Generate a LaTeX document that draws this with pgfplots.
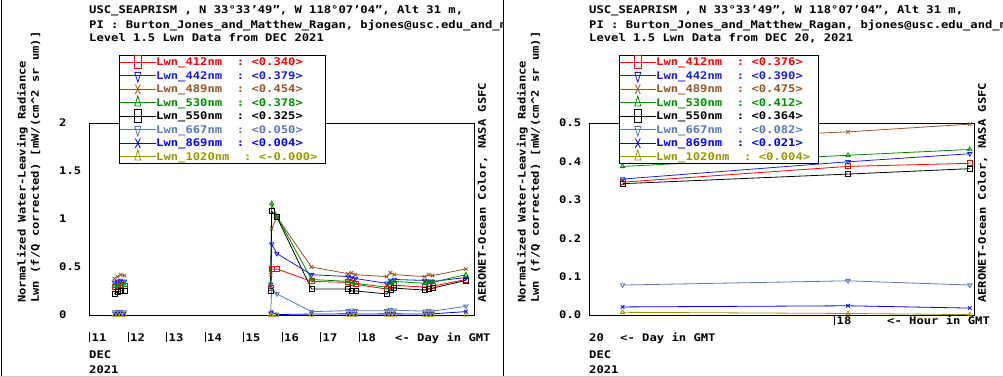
\documentclass[border=0pt]{standalone}
\usepackage{pgfplots}
\pgfplotsset{compat=1.18}
\usepackage{fontspec}
\setmainfont{DejaVu Sans Mono}[FakeStretch=1.16]
\definecolor{c412}{RGB}{255,0,0}
\definecolor{c442}{RGB}{30,30,220}
\definecolor{c489}{RGB}{150,85,40}
\definecolor{c530}{RGB}{0,140,0}
\definecolor{c550}{RGB}{0,0,0}
\definecolor{c667}{RGB}{90,120,180}
\definecolor{c869}{RGB}{0,0,255}
\definecolor{c1020}{RGB}{150,150,0}
\newcommand\tk[1]{\vrule width 1bp height 10bp depth 0bp\kern1.5bp#1}
\pgfplotsset{
  lwnaxis/.style={
    scale only axis, width=385bp, height=192bp, anchor=south west,
    axis line style={line width=0.8bp},
    major tick length=0pt,
    yticklabel style={anchor=west, inner sep=0pt, xshift=-30bp},
    xticklabel style={anchor=base west, inner sep=0pt},
    unbounded coords=jump,
    every axis plot/.append style={line width=0.8bp, mark size=2.5bp},
    legend style={at={(0.0779,1.354)}, anchor=north west, inner sep=0pt,
      row sep=0pt, column sep=0pt, draw=black, line width=0.8bp, fill=white,
      nodes={inner sep=0pt, text height=10.55bp, text depth=2.95bp}},
    legend cell align=left,
    legend image code/.code={\draw[mark repeat=2, mark phase=2, ##1, mark size=3.5bp,
      every mark/.append style={yscale=1.9}] plot coordinates {(0bp,0bp) (18bp,0bp) (36bp,0bp)};},
  },
  s412/.style={color=c412, mark=square},
  s442/.style={color=c442, mark=triangle, mark options={rotate=180}},
  s489/.style={color=c489, mark=x},
  s530/.style={color=c530, mark=triangle},
  s550/.style={color=c550, mark=square},
  s667/.style={color=c667, mark=triangle, mark options={rotate=180}},
  s869/.style={color=c869, mark=x},
  s1020/.style={color=c1020, mark=triangle},
}
\tikzset{tx/.style={anchor=base west, inner sep=0pt}, rl/.style={anchor=west, inner sep=0pt, rotate=90}}
\begin{document}
\fontsize{10.5bp}{12bp}\selectfont\bfseries
\begin{tikzpicture}
\path[use as bounding box] (0bp,0bp) rectangle (1003bp,377bp);
\draw[black!20, line width=1bp] (0bp,0.5bp) -- (1003bp,0.5bp);
\draw[line width=1bp] (1.5bp,1bp) -- (1.5bp,377bp);
\draw[line width=1bp] (503.5bp,1bp) -- (503.5bp,377bp);

% ---------------- left panel ----------------
\begin{axis}[lwnaxis, at={(89bp,62bp)}, xmin=11, xmax=21, ymin=0, ymax=2,
  xtick={11,12,13,14,15,16,17,18},
  xticklabels={\tk{11},\tk{12},\tk{13},\tk{14},\tk{15},\tk{16},\tk{17},\tk{18}},
  xticklabel style={yshift=-26.7bp},
  ytick={0,0.5,1,1.5,2}, yticklabels={0,0.5,1,1.5,2}]
\addplot[s412] coordinates {(11.66,0.29)(11.74,0.30)(11.82,0.31)(11.92,0.30)(13,nan)(15.72,0.28)(15.745,0.48)(15.88,0.48)(16.78,0.35)(17.73,0.34)(17.82,0.33)(17.92,0.32)(18.73,0.27)(18.83,0.30)(18.93,0.31)(19.72,0.29)(19.82,0.30)(19.92,0.30)(20.79,0.37)};
\addlegendentry{\textcolor{c412}{Lwn\_412nm~~:~<0.340>}\hspace*{8bp}}
\addplot[s442] coordinates {(11.66,0.34)(11.74,0.35)(11.82,0.36)(11.92,0.35)(13,nan)(15.72,0.32)(15.745,0.74)(15.88,0.64)(16.78,0.42)(17.73,0.40)(17.82,0.39)(17.92,0.38)(18.73,0.33)(18.83,0.36)(18.93,0.37)(19.72,0.36)(19.82,0.35)(19.92,0.35)(20.79,0.39)};
\addlegendentry{\textcolor{c442}{Lwn\_442nm~~:~<0.379>}\hspace*{8bp}}
\addplot[s489] coordinates {(11.66,0.38)(11.74,0.40)(11.82,0.42)(11.92,0.41)(13,nan)(15.72,0.42)(15.745,0.90)(15.88,1.02)(16.78,0.50)(17.73,0.43)(17.82,0.44)(17.92,0.42)(18.73,0.40)(18.83,0.44)(18.93,0.42)(19.72,0.40)(19.82,0.42)(19.92,0.41)(20.79,0.48)};
\addlegendentry{\textcolor{c489}{Lwn\_489nm~~:~<0.454>}\hspace*{8bp}}
\addplot[s530] coordinates {(11.66,0.30)(11.74,0.31)(11.82,0.32)(11.92,0.31)(13,nan)(15.72,0.29)(15.745,1.16)(15.88,1.03)(16.78,0.37)(17.73,0.35)(17.82,0.34)(17.92,0.33)(18.73,0.29)(18.83,0.33)(18.93,0.35)(19.72,0.33)(19.82,0.34)(19.92,0.34)(20.79,0.42)};
\addlegendentry{\textcolor{c530}{Lwn\_530nm~~:~<0.378>}\hspace*{8bp}}
\addplot[s550] coordinates {(11.66,0.22)(11.74,0.24)(11.82,0.25)(11.92,0.25)(13,nan)(15.72,0.25)(15.745,1.08)(15.88,1.02)(16.78,0.27)(17.73,0.27)(17.82,0.25)(17.92,0.25)(18.73,0.22)(18.83,0.26)(18.93,0.28)(19.72,0.26)(19.82,0.27)(19.92,0.28)(20.79,0.36)};
\addlegendentry{\textcolor{c550}{Lwn\_550nm~~:~<0.325>}\hspace*{8bp}}
\addplot[s667] coordinates {(11.66,0.03)(11.74,0.035)(11.82,0.035)(11.92,0.03)(13,nan)(15.72,0.02)(15.745,0.27)(15.88,0.22)(16.78,0.035)(17.73,0.045)(17.82,0.05)(17.92,0.045)(18.73,0.045)(18.83,0.055)(18.93,0.05)(19.72,0.04)(19.82,0.045)(19.92,0.04)(20.79,0.09)};
\addlegendentry{\textcolor{c667}{Lwn\_667nm~~:~<0.050>}\hspace*{8bp}}
\addplot[s869] coordinates {(11.66,0.01)(11.74,0.012)(11.82,0.012)(11.92,0.01)(13,nan)(15.72,0.01)(15.745,0.03)(15.88,0.005)(16.78,0.01)(17.73,0.012)(17.82,0.012)(17.92,0.01)(18.73,0.012)(18.83,0.015)(18.93,0.012)(19.72,0.01)(19.82,0.012)(19.92,0.012)(20.79,0.035)};
\addlegendentry{\textcolor{c869}{Lwn\_869nm~~:~<0.004>}\hspace*{8bp}}
\addplot[s1020] coordinates {(11.66,0)(11.74,0)(11.82,0)(11.92,0)(13,nan)(15.72,0)(15.745,0)(15.88,0)(16.78,0)(17.73,0)(17.82,0)(17.92,0)(18.73,0)(18.83,0)(18.93,0)(19.72,0)(19.82,0)(19.92,0)(20.79,0)};
\addlegendentry{\textcolor{c1020}{Lwn\_1020nm~~:~<-0.000>}\hspace*{8bp}}
\end{axis}

% ---------------- right panel ----------------
\begin{axis}[lwnaxis, at={(589bp,62bp)}, xmin=16.25, xmax=19, ymin=0, ymax=0.5,
  xtick={18}, xticklabels={\tk{18}},
  xticklabel style={yshift=-10bp},
  ytick={0,0.1,0.2,0.3,0.4,0.5}, yticklabels={0.0,0.1,0.2,0.3,0.4,0.5}]
\addplot[s412] coordinates {(16.49,0.346)(18.10,0.387)(18.97,0.395)};
\addlegendentry{\textcolor{c412}{Lwn\_412nm~~:~<0.376>}\hspace*{8bp}}
\addplot[s442] coordinates {(16.49,0.354)(18.10,0.399)(18.97,0.420)};
\addlegendentry{\textcolor{c442}{Lwn\_442nm~~:~<0.390>}\hspace*{8bp}}
\addplot[s489] coordinates {(16.49,0.451)(18.10,0.477)(18.97,0.497)};
\addlegendentry{\textcolor{c489}{Lwn\_489nm~~:~<0.475>}\hspace*{8bp}}
\addplot[s530] coordinates {(16.49,0.387)(18.10,0.416)(18.97,0.431)};
\addlegendentry{\textcolor{c530}{Lwn\_530nm~~:~<0.412>}\hspace*{8bp}}
\addplot[s550] coordinates {(16.49,0.342)(18.10,0.367)(18.97,0.381)};
\addlegendentry{\textcolor{c550}{Lwn\_550nm~~:~<0.364>}\hspace*{8bp}}
\addplot[s667] coordinates {(16.49,0.078)(18.10,0.089)(18.97,0.078)};
\addlegendentry{\textcolor{c667}{Lwn\_667nm~~:~<0.082>}\hspace*{8bp}}
\addplot[s869] coordinates {(16.49,0.021)(18.10,0.024)(18.97,0.018)};
\addlegendentry{\textcolor{c869}{Lwn\_869nm~~:~<0.021>}\hspace*{8bp}}
\addplot[s1020] coordinates {(16.49,0.007)(18.10,0.004)(18.97,0.001)};
\addlegendentry{\textcolor{c1020}{Lwn\_1020nm~~:~<0.004>}\hspace*{8bp}}
\end{axis}

% ---------------- texts ----------------
\begin{scope}
\clip (0bp,0bp) rectangle (502bp,377bp);
\node[tx] at (89bp,363bp) {USC\_SEAPRISM , N 33°33’49", W 118°07’04", Alt 31 m,};
\node[tx] at (89bp,348.9bp) {PI : Burton\_Jones\_and\_Matthew\_Ragan, bjones@usc.edu\_and\_mragan@usc.edu};
\node[tx] at (89bp,335.1bp) {Level 1.5 Lwn Data from DEC 2021};
\end{scope}
\node[rl] at (22.5bp,74bp) {Normalized Water-Leaving Radiance};
\node[rl] at (35.5bp,74bp) {Lwn (f/Q corrected) [mW/(cm\textasciicircum 2 sr um)]};
\node[rl] at (482.5bp,74bp) {AERONET-Ocean Color, NASA GSFC};
\node[tx] at (395bp,35.3bp) {<- Day in GMT};
\node[tx] at (89bp,18.7bp) {DEC};
\node[tx] at (89bp,3.7bp) {2021};

\begin{scope}
\clip (504bp,0bp) rectangle (1003bp,377bp);
\node[tx] at (589bp,363bp) {USC\_SEAPRISM , N 33°33’49", W 118°07’04", Alt 31 m,};
\node[tx] at (589bp,348.9bp) {PI : Burton\_Jones\_and\_Matthew\_Ragan, bjones@usc.edu\_and\_mragan@usc.edu};
\node[tx] at (589bp,335.1bp) {Level 1.5 Lwn Data from DEC 20, 2021};
\end{scope}
\node[rl] at (522.5bp,74bp) {Normalized Water-Leaving Radiance};
\node[rl] at (535.5bp,74bp) {Lwn (f/Q corrected) [mW/(cm\textasciicircum 2 sr um)]};
\node[rl] at (982.5bp,74bp) {AERONET-Ocean Color, NASA GSFC};
\node[tx] at (589bp,35.3bp) {20};
\node[tx] at (620bp,35.3bp) {<- Day in GMT};
\node[tx] at (887bp,52bp) {<- Hour in GMT};
\node[tx] at (589bp,18.7bp) {DEC};
\node[tx] at (589bp,3.7bp) {2021};
\end{tikzpicture}
\end{document}
